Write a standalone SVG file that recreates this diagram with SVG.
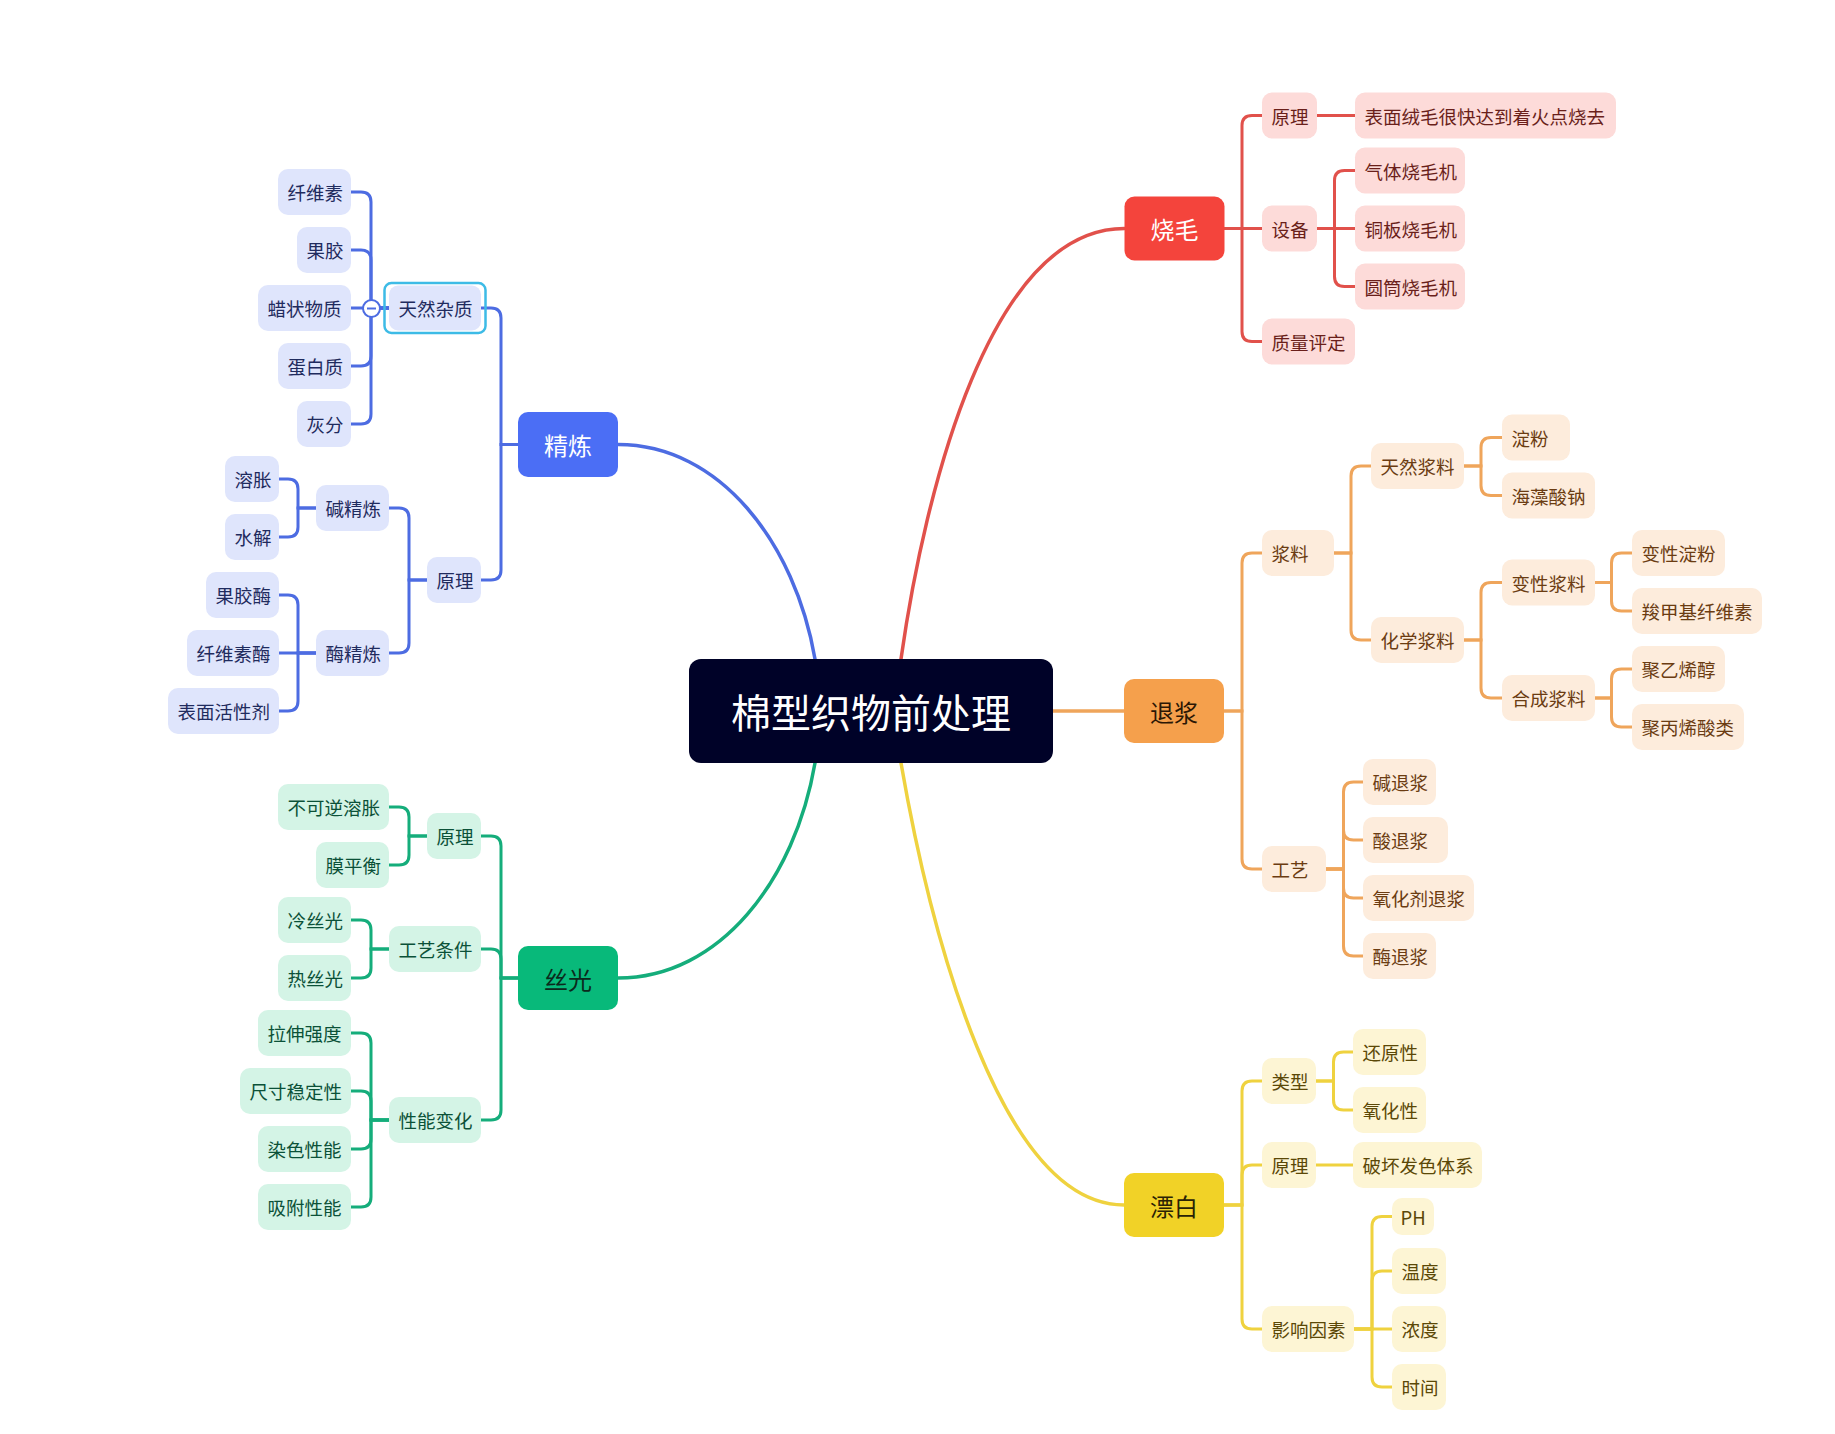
<svg xmlns="http://www.w3.org/2000/svg" width="1835" height="1434" viewBox="0 0 1835 1434">
<style>
text{font-family:"Noto Sans CJK SC","Noto Sans",sans-serif;dominant-baseline:central}
.n text{font-size:18.5px}
.L1 text{font-size:24px;text-anchor:middle}
.nb rect{fill:#dfe5fc}.nb text{fill:#1f2b5e}
.ng rect{fill:#d4f4e6}.ng text{fill:#0b5138}
.nr rect{fill:#fddbd9}.nr text{fill:#6a1f1a}
.no rect{fill:#fdecdc}.no text{fill:#6b3c12}
.ny rect{fill:#fdf5d4}.ny text{fill:#5b4807}
.cn path{fill:none;stroke-width:3;stroke-linecap:round}
.cb path{stroke:#4d6ce2}.cg path{stroke:#15ad7b}.cr path{stroke:#e1514b}.co path{stroke:#efa55b}.cy path{stroke:#efd23f}
.main{stroke-width:3.5!important}
</style>
<rect width="1835" height="1434" fill="#ffffff"/>
<g id="connectors" class="cn">
<g class="cb">
<path class="main" d="M618 444.5 C720 444.5 795 543 815 659"/>
<path d="M518 444.5 H501 V318 Q501 308 491 308 H481"/>
<path d="M518 444.5 H501 V570 Q501 580 491 580 H481"/>
<path d="M389 308 H371 V202 Q371 192 361 192 H351"/>
<path d="M389 308 H371 V260 Q371 250 361 250 H351"/>
<path d="M389 308 H351"/>
<path d="M389 308 H371 V356 Q371 366 361 366 H351"/>
<path d="M389 308 H371 V414 Q371 424 361 424 H351"/>
<path d="M427 580 H409 V518 Q409 508 399 508 H389"/>
<path d="M427 580 H409 V643 Q409 653 399 653 H389"/>
<path d="M316 508 H298 V489 Q298 479 288 479 H279"/>
<path d="M316 508 H298 V527 Q298 537 288 537 H279"/>
<path d="M316 653 H298 V605 Q298 595 288 595 H279"/>
<path d="M316 653 H279"/>
<path d="M316 653 H298 V701 Q298 711 288 711 H279"/>
</g>
<g class="cg">
<path class="main" d="M618 978 C720 978 795 880 815 763"/>
<path d="M518 978 H501 V846 Q501 836 491 836 H481"/>
<path d="M518 978 H501 V959 Q501 949 491 949 H481"/>
<path d="M518 978 H501 V1110 Q501 1120 491 1120 H481"/>
<path d="M427 836 H409 V817 Q409 807 399 807 H389"/>
<path d="M427 836 H409 V855 Q409 865 399 865 H389"/>
<path d="M389 949 H371 V930 Q371 920 361 920 H351"/>
<path d="M389 949 H371 V968 Q371 978 361 978 H351"/>
<path d="M389 1120 H371 V1043 Q371 1033 361 1033 H351"/>
<path d="M389 1120 H371 V1101 Q371 1091 361 1091 H351"/>
<path d="M389 1120 H371 V1139 Q371 1149 361 1149 H351"/>
<path d="M389 1120 H371 V1197 Q371 1207 361 1207 H351"/>
</g>
<g class="cr">
<path class="main" d="M901 659 C925 490 990 228.5 1124.5 228.5"/>
<path d="M1224.5 228.5 H1242 V125.5 Q1242 115.5 1252 115.5 H1262"/>
<path d="M1224.5 228.5 H1262"/>
<path d="M1224.5 228.5 H1242 V331.5 Q1242 341.5 1252 341.5 H1262"/>
<path d="M1317 115.5 H1355"/>
<path d="M1317 228.5 H1334.5 V180.5 Q1334.5 170.5 1344.5 170.5 H1355"/>
<path d="M1317 228.5 H1355"/>
<path d="M1317 228.5 H1334.5 V276.5 Q1334.5 286.5 1344.5 286.5 H1355"/>
</g>
<g class="co">
<path class="main" d="M1053 711 H1124"/>
<path d="M1224 711 H1242 V563 Q1242 553 1252 553 H1262"/>
<path d="M1224 711 H1242 V859 Q1242 869 1252 869 H1262"/>
<path d="M1334 553 H1351 V476 Q1351 466 1361 466 H1371"/>
<path d="M1334 553 H1351 V630 Q1351 640 1361 640 H1371"/>
<path d="M1464 466 H1481 V447.5 Q1481 437.5 1491 437.5 H1502"/>
<path d="M1464 466 H1481 V485.5 Q1481 495.5 1491 495.5 H1502"/>
<path d="M1464 640 H1481 V592.5 Q1481 582.5 1491 582.5 H1502"/>
<path d="M1464 640 H1481 V688 Q1481 698 1491 698 H1502"/>
<path d="M1595 582.5 H1611.5 V563 Q1611.5 553 1621.5 553 H1632"/>
<path d="M1595 582.5 H1611.5 V601 Q1611.5 611 1621.5 611 H1632"/>
<path d="M1595 698 H1611.5 V679 Q1611.5 669 1621.5 669 H1632"/>
<path d="M1595 698 H1611.5 V717 Q1611.5 727 1621.5 727 H1632"/>
<path d="M1326 869 H1343.5 V792 Q1343.5 782 1353.5 782 H1363"/>
<path d="M1326 869 H1343.5 V830 Q1343.5 840 1353.5 840 H1363"/>
<path d="M1326 869 H1343.5 V888 Q1343.5 898 1353.5 898 H1363"/>
<path d="M1326 869 H1343.5 V946 Q1343.5 956 1353.5 956 H1363"/>
</g>
<g class="cy">
<path class="main" d="M901 763 C930 930 1000 1205 1124 1205"/>
<path d="M1224 1205 H1242 V1091 Q1242 1081 1252 1081 H1262"/>
<path d="M1224 1205 H1242 V1175 Q1242 1165 1252 1165 H1262"/>
<path d="M1224 1205 H1242 V1319 Q1242 1329 1252 1329 H1262"/>
<path d="M1316 1081 H1333.5 V1062 Q1333.5 1052 1343.5 1052 H1353"/>
<path d="M1316 1081 H1333.5 V1100 Q1333.5 1110 1343.5 1110 H1353"/>
<path d="M1316 1165 H1353"/>
<path d="M1354 1329 H1372 V1226.5 Q1372 1216.5 1382 1216.5 H1392"/>
<path d="M1354 1329 H1372 V1281 Q1372 1271 1382 1271 H1392"/>
<path d="M1354 1329 H1392"/>
<path d="M1354 1329 H1372 V1377 Q1372 1387 1382 1387 H1392"/>
</g>
</g>

<g id="root"><rect x="689" y="659" width="364" height="104" rx="12" fill="#000228"/><text x="871" y="711" font-size="40" text-anchor="middle" fill="#ffffff">棉型织物前处理</text></g>

<g id="jinglian" class="L1"><rect x="518" y="412" width="100" height="65" rx="10" fill="#4b6ef5"/><text x="568" y="444.5" fill="#ffffff">精炼</text></g>
<g id="siguang" class="L1"><rect x="518" y="946" width="100" height="64" rx="10" fill="#08b97a"/><text x="568" y="978" fill="#0b2a1c">丝光</text></g>
<g id="shaomao" class="L1"><rect x="1124.5" y="196.5" width="100" height="64" rx="10" fill="#f4443c"/><text x="1174.5" y="228.5" fill="#ffffff">烧毛</text></g>
<g id="tuijiang" class="L1"><rect x="1124" y="679" width="100" height="64" rx="10" fill="#f5a04c"/><text x="1174" y="711" fill="#2b1705">退浆</text></g>
<g id="piaobai" class="L1"><rect x="1124" y="1173" width="100" height="64" rx="10" fill="#f1d227"/><text x="1174" y="1205" fill="#2a2205">漂白</text></g>

<g class="n nb">
<g id="b-tianran"><rect x="384.5" y="283" width="101" height="50" rx="7" fill="none" style="fill:none;stroke:#3dbbe6;stroke-width:2.5"/><rect x="389" y="285.5" width="92" height="45" rx="9"/><text x="398.5" y="308">天然杂质</text></g>
<g id="b-xianweisu"><rect x="278" y="169" width="73" height="46" rx="10"/><text x="287.5" y="192">纤维素</text></g>
<g id="b-guojiao"><rect x="297" y="227" width="54" height="46" rx="10"/><text x="306.5" y="250">果胶</text></g>
<g id="b-lazhuang"><rect x="258" y="285" width="93" height="46" rx="10"/><text x="267.5" y="308">蜡状物质</text></g>
<g id="b-danbai"><rect x="278" y="343" width="73" height="46" rx="10"/><text x="287.5" y="366">蛋白质</text></g>
<g id="b-huifen"><rect x="297" y="401" width="54" height="46" rx="10"/><text x="306.5" y="424">灰分</text></g>
<g id="b-yuanli"><rect x="427" y="557" width="54" height="46" rx="10"/><text x="436.5" y="580">原理</text></g>
<g id="b-jianjinglian"><rect x="316" y="485" width="73" height="46" rx="10"/><text x="325.5" y="508">碱精炼</text></g>
<g id="b-meijinglian"><rect x="316" y="630" width="73" height="46" rx="10"/><text x="325.5" y="653">酶精炼</text></g>
<g id="b-rongzhang"><rect x="225" y="456" width="54" height="46" rx="10"/><text x="234.5" y="479">溶胀</text></g>
<g id="b-shuijie"><rect x="225" y="514" width="54" height="46" rx="10"/><text x="234.5" y="537">水解</text></g>
<g id="b-guojiaomei"><rect x="206" y="572" width="73" height="46" rx="10"/><text x="215.5" y="595">果胶酶</text></g>
<g id="b-xianweisumei"><rect x="187" y="630" width="92" height="46" rx="10"/><text x="196.5" y="653">纤维素酶</text></g>
<g id="b-biaomian"><rect x="168" y="688" width="111" height="46" rx="10"/><text x="177.5" y="711">表面活性剂</text></g>
<circle cx="371.5" cy="308.5" r="8.5" fill="#ffffff" stroke="#4d6ce2" stroke-width="2"/>
<path d="M367 308.5 H376" stroke="#4d6ce2" stroke-width="2"/>
</g>

<g class="n ng">
<g id="g-yuanli"><rect x="427" y="813" width="54" height="46" rx="10"/><text x="436.5" y="836">原理</text></g>
<g id="g-bukeni"><rect x="278" y="784" width="111" height="46" rx="10"/><text x="287.5" y="807">不可逆溶胀</text></g>
<g id="g-mopingheng"><rect x="316" y="842" width="73" height="46" rx="10"/><text x="325.5" y="865">膜平衡</text></g>
<g id="g-gongyi"><rect x="389" y="926" width="92" height="46" rx="10"/><text x="398.5" y="949">工艺条件</text></g>
<g id="g-leng"><rect x="278" y="897" width="73" height="46" rx="10"/><text x="287.5" y="920">冷丝光</text></g>
<g id="g-re"><rect x="278" y="955" width="73" height="46" rx="10"/><text x="287.5" y="978">热丝光</text></g>
<g id="g-xingneng"><rect x="389" y="1097" width="92" height="46" rx="10"/><text x="398.5" y="1120">性能变化</text></g>
<g id="g-lashen"><rect x="258" y="1010" width="93" height="46" rx="10"/><text x="267.5" y="1033">拉伸强度</text></g>
<g id="g-chicun"><rect x="240" y="1068" width="111" height="46" rx="10"/><text x="249.5" y="1091">尺寸稳定性</text></g>
<g id="g-ranse"><rect x="258" y="1126" width="93" height="46" rx="10"/><text x="267.5" y="1149">染色性能</text></g>
<g id="g-xifu"><rect x="258" y="1184" width="93" height="46" rx="10"/><text x="267.5" y="1207">吸附性能</text></g>
</g>

<g class="n nr">
<g id="r-yuanli"><rect x="1262" y="92.5" width="55" height="46" rx="10"/><text x="1271.5" y="115.5">原理</text></g>
<g id="r-biaomian"><rect x="1355" y="92.5" width="261" height="46" rx="10"/><text x="1364.5" y="115.5">表面绒毛很快达到着火点烧去</text></g>
<g id="r-shebei"><rect x="1262" y="205.5" width="55" height="46" rx="10"/><text x="1271.5" y="228.5">设备</text></g>
<g id="r-qiti"><rect x="1355" y="147.5" width="110" height="46" rx="10"/><text x="1364.5" y="170.5">气体烧毛机</text></g>
<g id="r-tongban"><rect x="1355" y="205.5" width="110" height="46" rx="10"/><text x="1364.5" y="228.5">铜板烧毛机</text></g>
<g id="r-yuantong"><rect x="1355" y="263.5" width="110" height="46" rx="10"/><text x="1364.5" y="286.5">圆筒烧毛机</text></g>
<g id="r-zhiliang"><rect x="1262" y="318.5" width="93" height="46" rx="10"/><text x="1271.5" y="341.5">质量评定</text></g>
</g>

<g class="n no">
<g id="o-jiangliao"><rect x="1262" y="530" width="72" height="46" rx="10"/><text x="1271.5" y="553">浆料</text></g>
<g id="o-tianran"><rect x="1371" y="443" width="93" height="46" rx="10"/><text x="1380.5" y="466">天然浆料</text></g>
<g id="o-huaxue"><rect x="1371" y="617" width="93" height="46" rx="10"/><text x="1380.5" y="640">化学浆料</text></g>
<g id="o-dianfen"><rect x="1502" y="414.5" width="68" height="46" rx="10"/><text x="1511.5" y="437.5">淀粉</text></g>
<g id="o-haizao"><rect x="1502" y="472.5" width="93" height="46" rx="10"/><text x="1511.5" y="495.5">海藻酸钠</text></g>
<g id="o-bianxing"><rect x="1502" y="559.5" width="93" height="46" rx="10"/><text x="1511.5" y="582.5">变性浆料</text></g>
<g id="o-hecheng"><rect x="1502" y="675" width="93" height="46" rx="10"/><text x="1511.5" y="698">合成浆料</text></g>
<g id="o-bxdianfen"><rect x="1632" y="530" width="93" height="46" rx="10"/><text x="1641.5" y="553">变性淀粉</text></g>
<g id="o-suojia"><rect x="1632" y="588" width="130" height="46" rx="10"/><text x="1641.5" y="611">羧甲基纤维素</text></g>
<g id="o-juyixi"><rect x="1632" y="646" width="93" height="46" rx="10"/><text x="1641.5" y="669">聚乙烯醇</text></g>
<g id="o-jubingxi"><rect x="1632" y="704" width="112" height="46" rx="10"/><text x="1641.5" y="727">聚丙烯酸类</text></g>
<g id="o-gongyi"><rect x="1262" y="846" width="64" height="46" rx="10"/><text x="1271.5" y="869">工艺</text></g>
<g id="o-jian"><rect x="1363" y="759" width="73" height="46" rx="10"/><text x="1372.5" y="782">碱退浆</text></g>
<g id="o-suan"><rect x="1363" y="817" width="85" height="46" rx="10"/><text x="1372.5" y="840">酸退浆</text></g>
<g id="o-yanghua"><rect x="1363" y="875" width="111" height="46" rx="10"/><text x="1372.5" y="898">氧化剂退浆</text></g>
<g id="o-mei"><rect x="1363" y="933" width="73" height="46" rx="10"/><text x="1372.5" y="956">酶退浆</text></g>
</g>

<g class="n ny">
<g id="y-leixing"><rect x="1262" y="1058" width="54" height="46" rx="10"/><text x="1271.5" y="1081">类型</text></g>
<g id="y-huanyuan"><rect x="1353" y="1029" width="73" height="46" rx="10"/><text x="1362.5" y="1052">还原性</text></g>
<g id="y-yanghua"><rect x="1353" y="1087" width="73" height="46" rx="10"/><text x="1362.5" y="1110">氧化性</text></g>
<g id="y-yuanli"><rect x="1262" y="1142" width="54" height="46" rx="10"/><text x="1271.5" y="1165">原理</text></g>
<g id="y-pohuai"><rect x="1353" y="1142" width="129" height="46" rx="10"/><text x="1362.5" y="1165">破坏发色体系</text></g>
<g id="y-yingxiang"><rect x="1262" y="1306" width="92" height="46" rx="10"/><text x="1271.5" y="1329">影响因素</text></g>
<g id="y-ph"><rect x="1392" y="1198" width="42" height="37" rx="10"/><text x="1400.5" y="1216.5">PH</text></g>
<g id="y-wendu"><rect x="1392" y="1248" width="54" height="46" rx="10"/><text x="1401.5" y="1271">温度</text></g>
<g id="y-nongdu"><rect x="1392" y="1306" width="54" height="46" rx="10"/><text x="1401.5" y="1329">浓度</text></g>
<g id="y-shijian"><rect x="1392" y="1364" width="54" height="46" rx="10"/><text x="1401.5" y="1387">时间</text></g>
</g>
</svg>
